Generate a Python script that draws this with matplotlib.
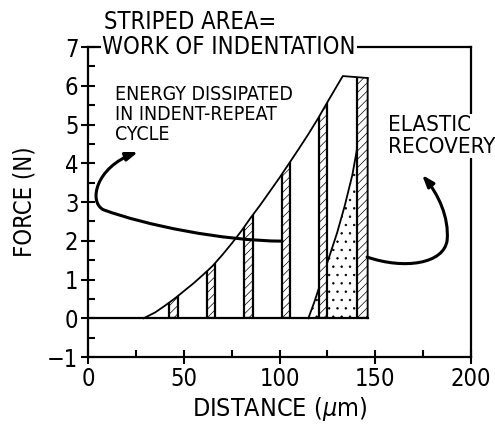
import matplotlib
matplotlib.use('Agg')
import matplotlib.pyplot as plt
from matplotlib.patches import Polygon, FancyArrowPatch
from matplotlib.path import Path
from matplotlib.ticker import MultipleLocator

plt.rcParams['font.family'] = ['DejaVu Sans']
plt.rcParams['font.stretch'] = 'condensed'
plt.rcParams['hatch.linewidth'] = 0.5

# loading curve (distance um, force N)
load_x = [29, 35, 40, 45, 50, 55, 60, 65, 70, 75, 80, 85, 90, 95, 100,
          105, 110, 115, 120, 125, 130, 133]
load_y = [0, 0.15, 0.32, 0.5, 0.7, 0.9, 1.12, 1.35, 1.63, 1.93, 2.25, 2.6,
          2.93, 3.28, 3.63, 4.0, 4.37, 4.75, 5.15, 5.58, 6.0, 6.25]
# flat top at max load, then vertical at max depth
peak_x = [133, 146, 146]
peak_y = [6.25, 6.2, 0]

# unloading curve
unload_x = [115, 118, 122, 126, 130, 134, 138, 142, 146]
unload_y = [0, 0.4, 1.0, 1.6, 2.2, 2.9, 3.7, 4.8, 6.2]

# striped strips under the loading curve
strip_left = [42.5, 62, 81.5, 101, 120.5, 140.5]
strip_width = [4.5, 4.5, 4.5, 4.5, 4.5, 5.5]
strip_top = [0.6, 1.45, 2.7, 4.05, 5.65, 6.25]

fig = plt.figure(figsize=(4.95, 4.32), dpi=100)
ax = fig.add_axes([0.178, 0.1736, 0.7737, 0.7176])
ax.set_xlim(0, 200)
ax.set_ylim(-1, 7)

for s in ax.spines.values():
    s.set_linewidth(1.6)

# stippled elastic recovery area
ax.fill_between(unload_x, 0, unload_y, facecolor='white', edgecolor='black',
                linewidth=0, hatch='..', zorder=1)

# strips clipped to the loading envelope
env = list(zip(load_x + peak_x, load_y + peak_y))
clip = Polygon(env, closed=True, transform=ax.transData)
bars = ax.bar(strip_left, strip_top, width=strip_width, align='edge',
              facecolor='white', edgecolor='black', linewidth=1.6,
              hatch='////', zorder=2)
for b in bars:
    b.set_clip_path(clip)

ax.plot(load_x + peak_x, load_y + peak_y, color='black', lw=1.3, zorder=3)
ax.plot(unload_x, unload_y, color='black', lw=1.3, zorder=1.5)
ax.plot([0, 146], [0, 0], color='black', lw=1.6, zorder=3)

# curved arrows
left_path = Path([(101.3, 1.99), (70, 2.0), (30, 2.4), (8, 2.8),
                  (0, 3.0), (4, 3.9), (26.1, 4.29)],
                 [Path.MOVETO] + [Path.CURVE4] * 6)
right_path = Path([(145.7, 1.58), (165, 1.25), (186, 1.4), (187.5, 2.02),
                   (188.5, 2.6), (183, 3.2), (174.4, 3.70)],
                  [Path.MOVETO] + [Path.CURVE4] * 6)
for p in (left_path, right_path):
    arr = FancyArrowPatch(path=p, arrowstyle='-|>,head_length=7,head_width=2.5',
                          color='black', lw=2.2, transform=ax.transData,
                          zorder=4)
    ax.add_patch(arr)

# ticks
ax.xaxis.set_major_locator(MultipleLocator(50))
ax.xaxis.set_minor_locator(MultipleLocator(25))
ax.yaxis.set_major_locator(MultipleLocator(1))
ax.yaxis.set_minor_locator(MultipleLocator(0.5))
ax.tick_params(which='major', direction='inout', length=10, width=1.5,
               labelsize=17, pad=2)
ax.tick_params(which='minor', direction='in', length=5, width=1.5)

ax.set_xlabel('DISTANCE ($\\mu$m)', fontsize=18, labelpad=3)
ax.set_ylabel('FORCE (N)', fontsize=17, labelpad=8)

white = dict(facecolor='white', edgecolor='none', pad=1)
fig.text(104 / 495, 1 - 22 / 432, 'STRIPED AREA=', fontsize=17,
         ha='left', va='center')
fig.text(102 / 495, 1 - 47 / 432, 'WORK OF INDENTATION', fontsize=17,
         ha='left', va='center', bbox=white, zorder=5)
fig.text(115 / 495, 1 - 85 / 432, 'ENERGY DISSIPATED\nIN INDENT-REPEAT\nCYCLE',
         fontsize=14, ha='left', va='top', linespacing=1.08)
fig.text(388 / 495, 1 - 136 / 432, 'ELASTIC\nRECOVERY', fontsize=16,
         ha='left', va='center', bbox=white, zorder=5, linespacing=1.1)

fig.savefig('out.png', dpi=100)
